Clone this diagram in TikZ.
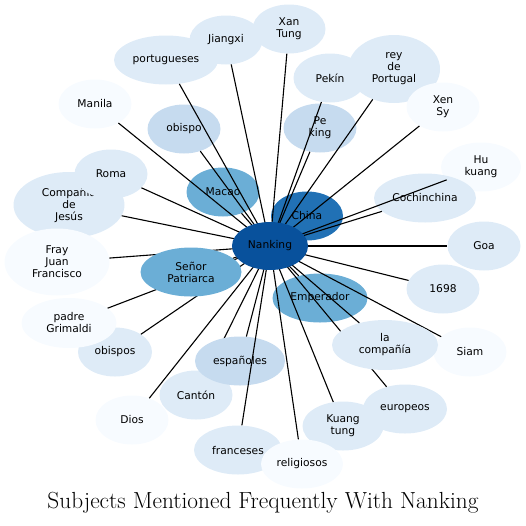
\documentclass[tikz,border=0pt]{standalone}
\usepackage{fontspec}
\usepackage{tikz}
\usetikzlibrary{shapes.geometric}
\newfontfamily\nodefont{DejaVu Sans}
\definecolor{nankingblue}{RGB}{8,81,156}
\definecolor{chinablue}{RGB}{33,113,181}
\definecolor{midblue}{RGB}{107,174,214}
\definecolor{paleblue}{RGB}{198,219,239}
\definecolor{lightblue}{RGB}{222,235,247}
\definecolor{whiteblue}{RGB}{247,251,255}

\begin{document}
\begin{tikzpicture}[x=1pt, y=-1pt,
    subj/.style  = {ellipse, inner sep=0pt, minimum width=73pt, minimum height=49pt,
                    align=center, text=black, font=\nodefont\fontsize{10.7}{12}\selectfont},
    light/.style = {subj, fill=lightblue},
    faint/.style = {subj, fill=whiteblue},
    pale/.style  = {subj, fill=paleblue},
    mid/.style   = {subj, fill=midblue},
    edge/.style  = {line width=1.1pt, draw=black},
    caption/.style = {font=\fontsize{23.3}{27}\selectfont}
  ]
    \useasboundingbox (0,0) rectangle (526,525);
    \coordinate (nkc) at (270,246);

    % outer ring
    \node[light, minimum width=104pt] (portugueses) at (166,60)  {portugueses};
    \node[light]                      (jiangxi)     at (226,40)  {Jiangxi};
    \node[light]                      (xantung)     at (289,29)  {Xan\\Tung};
    \node[light]                      (pekin)       at (330,78)  {Pekín};
    \node[light, minimum width=92pt, minimum height=68pt] (rey) at (394,69) {rey\\de\\Portugal};
    \node[faint]                      (xensy)       at (443,107) {Xen\\Sy};
    \node[faint, minimum width=80pt]  (hukuang)     at (481,167) {Hu\\kuang};
    \node[light, minimum width=102pt] (cochin)      at (425,198) {Cochinchina};
    \node[light]                      (goa)         at (484,246) {Goa};
    \node[light]                      (y1698)       at (443,289) {1698};
    \node[faint]                      (siam)        at (470,352) {Siam};
    \node[light, minimum width=81pt]  (kuangtung)   at (343,426) {Kuang\\tung};
    \node[light, minimum width=84pt]  (europeos)    at (405,409) {europeos};
    \node[light, minimum width=88pt]  (franceses)   at (238,450) {franceses};
    \node[faint, minimum width=82pt]  (religiosos)  at (302,464) {religiosos};
    \node[light]                      (canton)      at (196,395) {Cantón};
    \node[faint]                      (dios)        at (132,420) {Dios};
    \node[light, minimum width=74pt]  (obispos)     at (115,352) {obispos};
    \node[faint, minimum width=95pt, minimum height=50pt] (grimaldi) at (69,323) {padre\\Grimaldi};
    \node[light, minimum width=111pt, minimum height=66pt] (compania) at (69,205) {Compañía\\de\\Jesús};
    \node[faint, minimum width=105pt, minimum height=67pt] (fray) at (57,262) {Fray\\Juan\\Francisco};
    \node[light]                      (roma)        at (111,174) {Roma};
    \node[faint]                      (manila)      at (95,104)  {Manila};

    % inner ring
    \node[pale]                       (obispo)      at (184,129) {obispo};
    \node[mid]                        (macao)       at (223,192) {Macao};
    \node[pale]                       (peking)      at (320,128) {Pe\\king};
    \node[subj, fill=chinablue, minimum width=72pt] (china) at (307,216) {China};
    \node[mid, minimum width=95pt]    (emperador)   at (320,298) {Emperador};

    \draw[edge] (nkc) -- (portugueses);
    \draw[edge] (nkc) -- (jiangxi);
    \draw[edge] (nkc) -- (xantung);
    \draw[edge] (nkc) -- (pekin);
    \draw[edge] (nkc) -- (rey);
    \draw[edge] (nkc) -- (xensy);
    \draw[edge] (nkc) -- (hukuang);
    \draw[edge] (nkc) -- (cochin);
    \draw[edge] (nkc) -- (goa);
    \draw[edge] (nkc) -- (y1698);
    \draw[edge] (nkc) -- (siam);
    \draw[edge] (nkc) -- (kuangtung);
    \draw[edge] (nkc) -- (europeos);
    \draw[edge] (nkc) -- (religiosos);
    \draw[edge] (nkc) -- (canton);
    \draw[edge] (nkc) -- (dios);
    \draw[edge] (nkc) -- (obispos);
    \draw[edge] (nkc) -- (grimaldi);
    \draw[edge] (nkc) -- (compania);
    \draw[edge] (nkc) -- (fray);
    \draw[edge] (nkc) -- (roma);
    \draw[edge] (nkc) -- (manila);
    \draw[edge] (nkc) -- (obispo);
    \draw[edge] (nkc) -- (macao);
    \draw[edge] (nkc) -- (peking);
    \draw[edge] (nkc) -- (china);
    \draw[edge] (nkc) -- (emperador);

    % these sit over some of the lines
    \node[mid, minimum width=101pt]   (patriarca)   at (191,272) {Señor\\Patriarca};
    \node[pale, minimum width=90pt]   (espanoles)   at (240,361) {españoles};
    \node[light, minimum width=106pt, minimum height=50pt] (lacomp) at (385,345) {la\\compañía};

    \draw[edge] (nkc) -- (patriarca);
    \draw[edge] (nkc) -- (espanoles);
    \draw[edge] (nkc) -- (lacomp);
    \draw[edge] (nkc) -- (franceses);

    \node[subj, fill=nankingblue, minimum width=76pt, minimum height=48pt] (nk) at (nkc) {Nanking};

    \node[caption] (title) at (263,503) {Subjects Mentioned Frequently With Nanking};
  \end{tikzpicture}
\end{document}
